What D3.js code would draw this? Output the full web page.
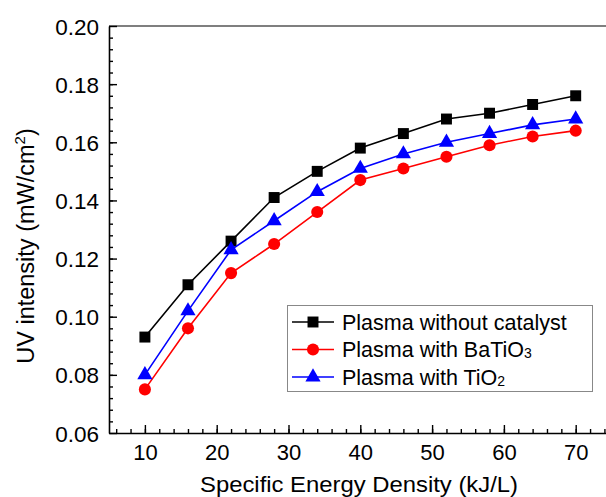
<!DOCTYPE html>
<html>
<head>
<meta charset="utf-8">
<script src="https://cdn.jsdelivr.net/npm/d3@7"></script>
<style>
  body { margin: 0; background: #fff; }
  text { font-family: "Liberation Sans", Arial, sans-serif; }
</style>
</head>
<body>
<div id="chart-area"></div>
<script>
const energy = [10, 16, 22, 28, 34, 40, 46, 52, 58, 64, 70]
const noCatalyst = [0.093, 0.111, 0.126, 0.141, 0.150, 0.158, 0.163, 0.168, 0.170, 0.173, 0.176]
const baTiO3 = [0.075, 0.096, 0.115, 0.125, 0.136, 0.147, 0.151, 0.155, 0.159, 0.162, 0.164]
const tiO2 = [0.080, 0.102, 0.123, 0.133, 0.143, 0.151, 0.156, 0.160, 0.163, 0.166, 0.168]
const xTicks = [10, 20, 30, 40, 50, 60, 70]
const yTicks = [0.06, 0.08, 0.10, 0.12, 0.14, 0.16, 0.18, 0.20]

const W = 606, H = 497
const MARGIN = { LEFT: 109, TOP: 26, BOTTOM: 64 }

const svg = d3.select("#chart-area").append("svg")
  .attr("width", W)
  .attr("height", H)

const x = d3.scaleLinear().domain([5, 75]).range([MARGIN.LEFT, MARGIN.LEFT + 70 * 7.18])
const y = d3.scaleLinear().domain([0.06, 0.20]).range([H - MARGIN.BOTTOM, MARGIN.TOP])

const series = [
  { name: "noCat", values: noCatalyst, color: "#000", shape: d3.symbolSquare },
  { name: "ba", values: baTiO3, color: "#ff0000", shape: d3.symbolCircle },
  { name: "ti", values: tiO2, color: "#0000ff", shape: d3.symbolTriangle }
]
const symSize = { noCat: 120, ba: 115, ti: 100 }

// top frame line
svg.append("line")
  .attr("x1", x(5)).attr("x2", W)
  .attr("y1", y(0.20)).attr("y2", y(0.20))
  .attr("stroke", "#555").attr("stroke-width", 1.6)

// x axis (ticks inward)
svg.append("g")
  .attr("transform", `translate(0, ${y(0.06)})`)
  .call(d3.axisTop(x).tickValues(d3.range(6, 75, 2)).tickSize(4).tickFormat(""))
  .call(g => g.select(".domain").remove())
  .selectAll("line").attr("stroke-width", 1.4)

const xAxis = svg.append("g")
  .attr("transform", `translate(0, ${y(0.06)})`)
  .call(d3.axisTop(x).tickValues(xTicks).tickSize(8).tickSizeOuter(0))
xAxis.select(".domain").attr("stroke-width", 1.6)
xAxis.selectAll("line").attr("stroke-width", 1.4)
xAxis.selectAll("text")
  .attr("y", 27)
  .attr("font-size", "22px")
  .attr("fill", "#000")

// y axis (ticks inward)
svg.append("g")
  .attr("transform", `translate(${x(5)}, 0)`)
  .call(d3.axisRight(y).tickValues(d3.range(0.064, 0.2, 0.004)).tickSize(4).tickFormat(""))
  .call(g => g.select(".domain").remove())
  .selectAll("line").attr("stroke-width", 1.4)

const yAxis = svg.append("g")
  .attr("transform", `translate(${x(5)}, 0)`)
  .call(d3.axisRight(y).tickValues(yTicks).tickSize(8).tickSizeOuter(0).tickFormat(d3.format(".2f")))
yAxis.select(".domain").attr("stroke-width", 1.6)
yAxis.selectAll("line").attr("stroke-width", 1.4)
yAxis.selectAll("text")
  .attr("x", -10)
  .attr("dy", "0.36em")
  .attr("text-anchor", "end")
  .attr("font-size", "22.5px")
  .attr("fill", "#000")

// X label
svg.append("text")
  .attr("x", 200)
  .attr("y", 492)
  .attr("font-size", "22px")
  .attr("textLength", 318)
  .attr("lengthAdjust", "spacingAndGlyphs")
  .text("Specific Energy Density (kJ/L)")

// Y label
const yl = svg.append("text")
  .attr("transform", `translate(34, 246) rotate(-90)`)
  .attr("text-anchor", "middle")
  .attr("font-size", "23.5px")
yl.append("tspan").text("UV intensity (mW/cm")
yl.append("tspan").attr("dy", -9).attr("font-size", "15px").text("2")
yl.append("tspan").attr("dy", 9).text(")")

// series
const line = d3.line()
  .x((d, i) => x(energy[i]))
  .y(d => y(d))

series.forEach(s => {
  svg.append("path")
    .datum(s.values)
    .attr("fill", "none")
    .attr("stroke", s.color)
    .attr("stroke-width", 1.6)
    .attr("d", line)

  svg.selectAll(".pt-" + s.name)
    .data(s.values)
    .enter().append("path")
    .attr("class", "pt-" + s.name)
    .attr("transform", (d, i) => `translate(${x(energy[i])}, ${y(d)})`)
    .attr("d", d3.symbol().type(s.shape).size(symSize[s.name]))
    .attr("fill", s.color)
})

// legend
const legend = svg.append("g")
svg.append("rect")
  .attr("x", 287.5).attr("y", 305.5)
  .attr("width", 305).attr("height", 86)
  .attr("fill", "#fff")
  .attr("stroke", "#888")
  .attr("stroke-width", 1)
  .lower()

const labels = [
  [{ t: "Plasma without catalyst" }],
  [{ t: "Plasma with BaTiO" }, { t: "3", sub: true }],
  [{ t: "Plasma with TiO" }, { t: "2", sub: true }]
]
series.forEach((s, i) => {
  const ly = 322 + i * 27.5
  legend.append("line")
    .attr("x1", 292).attr("x2", 334)
    .attr("y1", ly).attr("y2", ly)
    .attr("stroke", s.color).attr("stroke-width", 1.6)
  legend.append("path")
    .attr("transform", `translate(313, ${ly})`)
    .attr("d", d3.symbol().type(s.shape).size(symSize[s.name]))
    .attr("fill", s.color)
  const t = legend.append("text")
    .attr("x", 342).attr("y", ly + 7.5)
    .attr("font-size", "21.5px")
  labels[i].forEach(p => {
    t.append("tspan")
      .attr("font-size", p.sub ? "14px" : null)
      .attr("dy", p.sub ? 1 : null)
      .text(p.t)
  })
})
</script>
</body>
</html>
